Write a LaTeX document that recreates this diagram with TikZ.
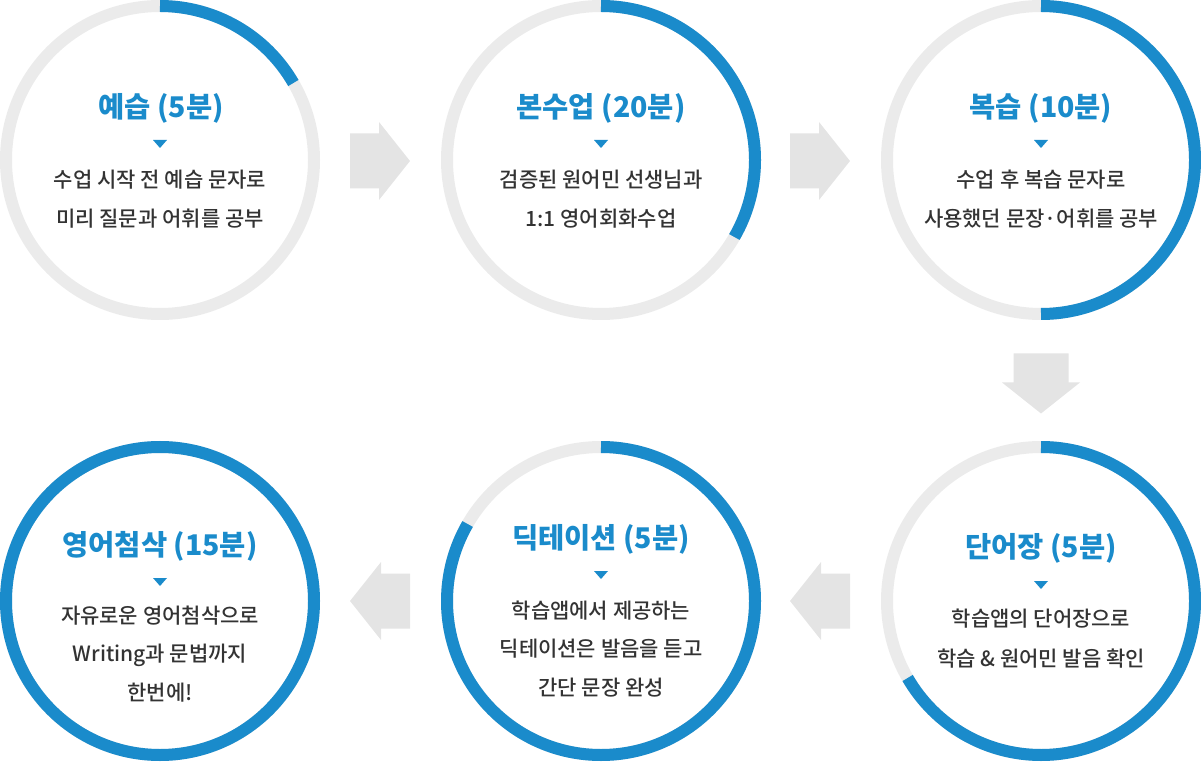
\documentclass[tikz,border=0pt]{standalone}
\usepackage{fontspec}
\setmainfont{Noto Sans CJK KR}
\newfontfamily\krmed{Noto Sans CJK KR Medium}
\definecolor{ringblue}{HTML}{1A8BCB}
\definecolor{ringgray}{HTML}{EBEBEB}
\definecolor{arrowgray}{HTML}{E4E4E4}
\definecolor{textgray}{HTML}{333333}
\begin{document}
\begin{tikzpicture}[x=1pt,y=1pt,
  ringbg/.style={circle, draw=ringgray, line width=12pt, minimum size=308pt, inner sep=0pt},
  ringfg/.style={draw=ringblue, line width=12pt},
  ttl/.style={font=\fontsize{28.5}{33}\selectfont\bfseries, text=ringblue, anchor=base, inner sep=0pt},
  bdy/.style={font=\krmed\fontsize{21}{24}\selectfont, text=textgray, anchor=base, inner sep=0pt},
  tri/.style={fill=ringblue},
  barrow/.pic={\fill[arrowgray] (-30,-27.5) -- (-1,-27.5) -- (-1,-39) -- (30,0) -- (-1,39) -- (-1,27.5) -- (-30,27.5) -- cycle;}
]
\useasboundingbox (0,0) rectangle (1201,761);

% circles
\node[ringbg] (c1) at (160,601) {};
\node[ringbg] (c2) at (601,601) {};
\node[ringbg] (c3) at (1041,601) {};
\node[ringbg] (c4) at (1041,160) {};
\node[ringbg] (c5) at (601,160) {};
\node[ringbg] (c6) at (160,160) {};

% progress arcs
\draw[ringfg] ([shift={(90:154)}]c1) arc[start angle=90, end angle=30, radius=154];
\draw[ringfg] ([shift={(90:154)}]c2) arc[start angle=90, end angle=-30, radius=154];
\draw[ringfg] ([shift={(90:154)}]c3) arc[start angle=90, end angle=-90, radius=154];
\draw[ringfg] ([shift={(90:154)}]c4) arc[start angle=90, end angle=-150, radius=154];
\draw[ringfg] ([shift={(90:154)}]c5) arc[start angle=90, end angle=-210, radius=154];
\draw[ringfg] (c6) circle[radius=154];

% block arrows
\coordinate (a1) at (380,600);
\coordinate (a2) at (820,600);
\coordinate (a3) at (1041,377.5);
\coordinate (a4) at (820,160);
\coordinate (a5) at (380,160);
\pic at (a1) {barrow};
\pic at (a2) {barrow};
\pic[rotate=-90] at (a3) {barrow};
\pic[rotate=180] at (a4) {barrow};
\pic[rotate=180] at (a5) {barrow};

% circle 1
\node[ttl] (t1) at (161,643.5) {예습 (5분)};
\fill[tri] (153,621) -- (167,621) -- (160,613) -- cycle;
\node[bdy] (b1a) at (160,573) {수업 시작 전 예습 문자로};
\node[bdy] (b1b) at (160,534) {미리 질문과 어휘를 공부};

% circle 2
\node[ttl] (t2) at (601,643.5) {본수업 (20분)};
\fill[tri] (594,621) -- (608,621) -- (601,613) -- cycle;
\node[bdy] (b2a) at (601,573) {검증된 원어민 선생님과};
\node[bdy] (b2b) at (601,534) {1:1 영어회화수업};

% circle 3
\node[ttl] (t3) at (1041,643.5) {복습 (10분)};
\fill[tri] (1034,621) -- (1048,621) -- (1041,613) -- cycle;
\node[bdy] (b3a) at (1041,573) {수업 후 복습 문자로};
\node[bdy] (b3b) at (1041,534) {사용했던 문장·어휘를 공부};

% circle 4
\node[ttl] (t4) at (1041,203.5) {단어장 (5분)};
\fill[tri] (1034,180) -- (1048,180) -- (1041,172) -- cycle;
\node[bdy] (b4a) at (1041,135) {학습앱의 단어장으로};
\node[bdy] (b4b) at (1041,95) {학습 \& 원어민 발음 확인};

% circle 5
\node[ttl] (t5) at (601,212.5) {딕테이션 (5분)};
\fill[tri] (594,190) -- (608,190) -- (601,182) -- cycle;
\node[bdy] (b5a) at (601,143) {학습앱에서 제공하는};
\node[bdy] (b5b) at (601,105) {딕테이션은 발음을 듣고};
\node[bdy] (b5c) at (601,66) {간단 문장 완성};

% circle 6
\node[ttl] (t6) at (160,205.5) {영어첨삭 (15분)};
\fill[tri] (153,183) -- (167,183) -- (160,175) -- cycle;
\node[bdy] (b6a) at (160,138) {자유로운 영어첨삭으로};
\node[bdy] (b6b) at (160,100) {Writing과 문법까지};
\node[bdy] (b6c) at (160,61) {한번에!};
\end{tikzpicture}
\end{document}
